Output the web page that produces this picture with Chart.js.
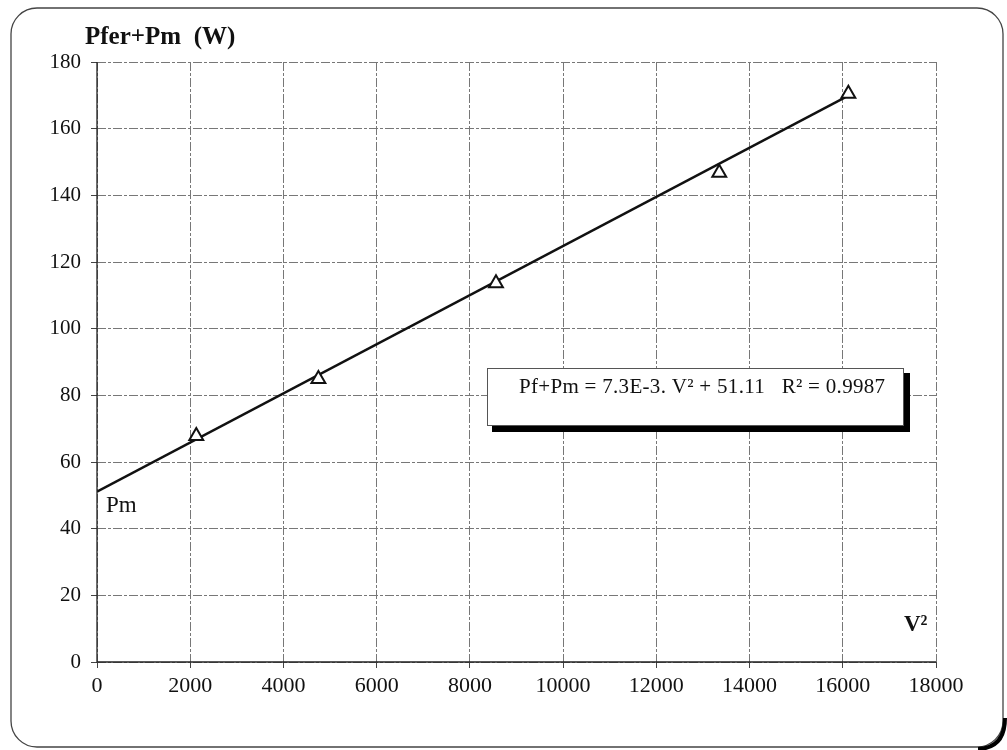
<!DOCTYPE html>
<html>
<head>
<meta charset="utf-8">
<script src="https://cdn.jsdelivr.net/npm/chart.js@4/dist/chart.umd.min.js"></script>
<style>
  html, body { margin: 0; padding: 0; background: #fff; }
  #wrap { width: 1007px; height: 750px; position: relative; }
</style>
</head>
<body>
<div id="wrap"><canvas id="chart" width="1007" height="750"></canvas></div>
<script>
// measured points (V², Pfer+Pm)
const vSquared = [2130, 4750, 8560, 13350, 16120];
const pLoss = [67.8, 84.9, 113.6, 146.8, 170.5];

// fitted line ends
const trendX = [0, 16050];
const trendY = [51.1, 169.4];

const xTicks = [0, 2000, 4000, 6000, 8000, 10000, 12000, 14000, 16000, 18000];
const yTicks = [0, 20, 40, 60, 80, 100, 120, 140, 160, 180];

const eqText = "Pf+Pm = 7.3E-3. V\u00b2 + 51.11   R\u00b2 = 0.9987";
const serif = "'Liberation Serif', 'DejaVu Serif', serif";
const ink = "#111";
const gridGrey = "#777";

const overlay = {
  id: "overlay",
  beforeDraw(chart) {
    const c = chart.ctx;
    c.save();
    c.fillStyle = "#fff";
    c.fillRect(0, 0, chart.width, chart.height);
    // outer frame
    c.strokeStyle = "#444";
    c.lineWidth = 1.3;
    c.beginPath();
    c.roundRect(11, 8, 992, 739, 26);
    c.stroke();
    // shadow on the bottom-right corner
    c.strokeStyle = "#000";
    c.lineWidth = 4;
    c.beginPath();
    c.moveTo(1005, 718);
    c.quadraticCurveTo(1005, 748, 978, 749);
    c.stroke();
    c.restore();
  },
  afterDraw(chart) {
    const c = chart.ctx;
    const xs = chart.scales.x, ys = chart.scales.y;
    c.save();
    c.fillStyle = ink;
    c.textBaseline = "alphabetic";
    c.textAlign = "left";

    c.font = "bold 25px " + serif;
    c.fillText("Pfer+Pm  (W)", 85, 44);

    c.font = "bold 23px " + serif;
    c.fillText("V\u00b2", 904, 631);

    c.font = "23px " + serif;
    c.fillText("Pm", 106, 512);

    // equation box with shadow
    const bx = 487, by = 368, bw = 416, bh = 57;
    c.fillStyle = "#000";
    c.fillRect(bx + 5, by + bh, bw + 2, 7);
    c.fillRect(bx + bw, by + 5, 7, bh + 2);
    c.fillStyle = "#fff";
    c.fillRect(bx, by, bw, bh);
    c.strokeStyle = "#555";
    c.lineWidth = 1;
    c.strokeRect(bx + 0.5, by + 0.5, bw, bh);
    c.fillStyle = ink;
    c.font = "21px " + serif;
    c.letterSpacing = "0.3px";
    c.fillText(eqText, 519, 393);
    c.letterSpacing = "0px";

    // axis lines
    c.strokeStyle = "#222";
    c.lineWidth = 1.3;
    c.beginPath();
    c.moveTo(xs.left, ys.top);
    c.lineTo(xs.left, ys.bottom);
    c.lineTo(xs.right, ys.bottom);
    c.stroke();
    c.restore();
  }
};

new Chart(document.getElementById("chart"), {
  type: "scatter",
  data: {
    datasets: [
      {
        label: "Pfer+Pm",
        data: vSquared.map((v, i) => ({ x: v, y: pLoss[i] })),
        pointStyle: "triangle",
        pointRadius: 8,
        pointBorderWidth: 2,
        pointBorderColor: ink,
        pointBackgroundColor: "#fff",
        order: 0
      },
      {
        label: "trend",
        type: "line",
        data: trendX.map((v, i) => ({ x: v, y: trendY[i] })),
        borderColor: ink,
        borderWidth: 2.4,
        pointRadius: 0,
        fill: false,
        order: 1
      }
    ]
  },
  options: {
    responsive: false,
    animation: false,
    layout: { padding: { left: 0, top: 62, right: 71, bottom: 0 } },
    plugins: { legend: { display: false }, tooltip: { enabled: false } },
    scales: {
      x: {
        type: "linear",
        min: 0,
        max: 18000,
        afterBuildTicks: s => { s.ticks = xTicks.map(v => ({ value: v })); },
        afterFit: s => { s.height = 88; },
        border: { display: false, dash: [9, 2, 3, 2] },
        grid: { color: gridGrey, lineWidth: 1, tickLength: 6, tickColor: "#444" },
        ticks: {
          color: ink,
          font: { family: serif, size: 22 },
          padding: 5,
          maxRotation: 0,
          callback: v => String(v)
        }
      },
      y: {
        type: "linear",
        min: 0,
        max: 180,
        afterBuildTicks: s => { s.ticks = yTicks.map(v => ({ value: v })); },
        afterFit: s => { s.width = 97; },
        border: { display: false, dash: [9, 2, 3, 2] },
        grid: { color: gridGrey, lineWidth: 1, tickLength: 6, tickColor: "#444" },
        ticks: {
          color: ink,
          font: { family: serif, size: 21 },
          padding: 10,
          callback: v => String(v)
        }
      }
    }
  },
  plugins: [overlay]
});
</script>
</body>
</html>
